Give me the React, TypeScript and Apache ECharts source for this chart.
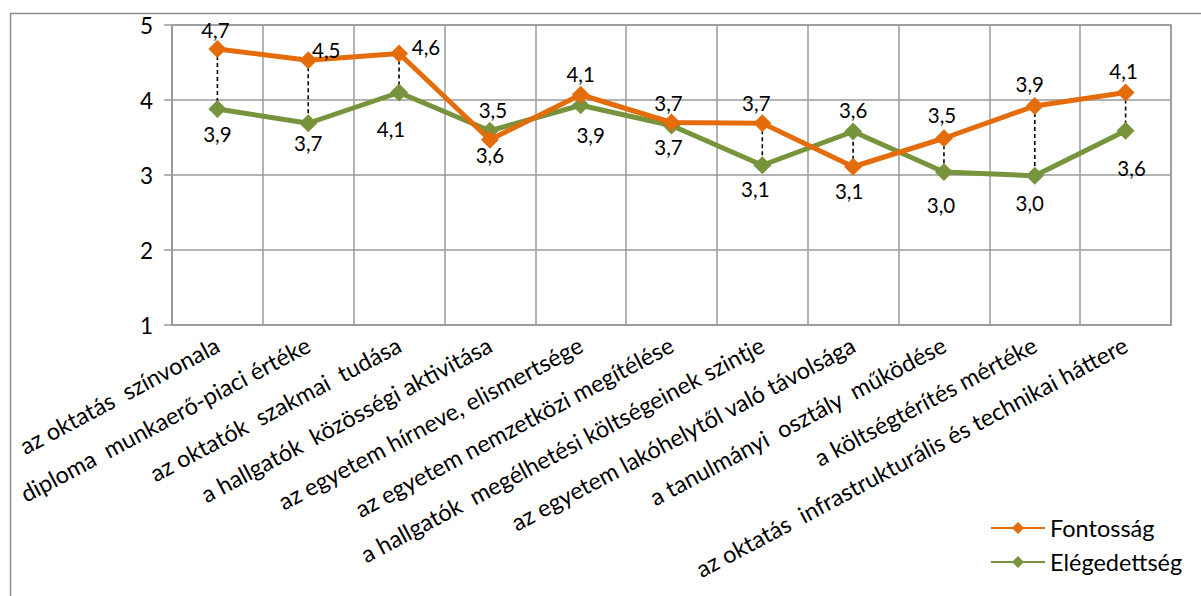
import React, { useEffect, useRef } from "react";
import * as echarts from "echarts";

const categories = [
  "az oktatás  színvonala",
  "diploma  munkaerő-piaci értéke",
  "az oktatók  szakmai  tudása",
  "a hallgatók  közösségi aktivitása",
  "az egyetem hírneve, elismertsége",
  "az egyetem nemzetközi megítélése",
  "a hallgatók  megélhetési költségeinek szintje",
  "az egyetem lakóhelytől való távolsága",
  "a tanulmányi  osztály  működése",
  "a költségtérítés mértéke",
  "az oktatás  infrastrukturális és technikai háttere",
];
const fontossag = [4.68, 4.53, 4.62, 3.47, 4.07, 3.7, 3.69, 3.11, 3.49, 3.92, 4.1];
const elegedettseg = [3.88, 3.69, 4.1, 3.59, 3.93, 3.66, 3.13, 3.58, 3.04, 2.99, 3.59];
const yTicks = [1, 2, 3, 4, 5];

// label offsets (styling only) relative to marker centre
const offF = [[-2, -19], [18, -10], [27, -7], [3, -30], [0, -21], [-3, -20], [-6, -20], [-4, 24], [-2, -23], [-5, -22], [-2, -22]];
const offE = [[0, 25], [0, 20], [-8, 36], [0, 24], [10, 30], [-3, 21], [-7, 24], [0, -22], [-3, 33], [-5, 27], [6, 37]];

const FONT = "Lato";
const fmt = (v: number) => v.toFixed(1).replace(".", ",");

export default function App() {
  const ref = useRef<HTMLDivElement>(null);
  useEffect(() => {
    document.body.style.margin = "0";
    const chart = echarts.init(ref.current!, null, { renderer: "svg" });
    const mkData = (vals: number[], offs: number[][]) =>
      vals.map((v, i) => ({
        value: v,
        label: { offset: offs[i] },
      }));
    chart.setOption({
      animation: false,
      textStyle: { fontFamily: FONT },
      graphic: [
        {
          type: "rect",
          left: 8,
          top: 11,
          shape: { width: 1300, height: 700 },
          style: { fill: "none", stroke: "#8c8c8c", lineWidth: 1.5 },
          silent: true,
        },
      ],
      legend: {
        orient: "vertical",
        left: 985,
        top: 511,
        itemWidth: 54,
        itemHeight: 15,
        itemGap: 10,
        textStyle: { fontFamily: FONT, fontSize: 23.5, color: "#000" },
        data: ["Fontosság", "Elégedettség"],
      },
      grid: {
        left: 172,
        right: 30,
        top: 25,
        bottom: 271,
        show: true,
        borderColor: "#9a9a9a",
        borderWidth: 1.5,
      },
      xAxis: {
        type: "category",
        data: categories,
        boundaryGap: true,
        axisLine: { show: true, lineStyle: { color: "#9a9a9a", width: 1.5 } },
        axisTick: { show: false },
        splitLine: { show: true, lineStyle: { color: "#9a9a9a", width: 1.5 } },
        axisLabel: {
          interval: 0,
          rotate: 28,
          margin: 18,
          color: "#000",
          fontFamily: FONT,
          fontSize: 23.5,
        },
      },
      yAxis: {
        type: "value",
        min: 1,
        max: 5,
        interval: 1,
        axisLine: { show: true, lineStyle: { color: "#9a9a9a", width: 1.5 } },
        axisTick: { show: true, length: 8, lineStyle: { color: "#9a9a9a", width: 1.5 } },
        splitLine: { show: true, lineStyle: { color: "#9a9a9a", width: 1.5 } },
        axisLabel: {
          color: "#000",
          fontFamily: FONT,
          fontSize: 22.5,
          margin: 19,
          formatter: (v: number) => (yTicks.includes(v) ? String(v) : ""),
        },
      },
      series: [
        {
          type: "custom",
          name: "drop",
          z: 1,
          silent: true,
          renderItem: (params: any, api: any) => {
            const i = api.value(0);
            const a = api.coord([i, api.value(1)]);
            const b = api.coord([i, api.value(2)]);
            return {
              type: "line",
              shape: { x1: a[0], y1: a[1], x2: b[0], y2: b[1] },
              style: { stroke: "#000", lineWidth: 1.6, lineDash: [4, 3] },
            };
          },
          encode: { x: 0, y: [1, 2] },
          data: categories.map((_, i) => [i, fontossag[i], elegedettseg[i]]),
        },
        {
          type: "line",
          name: "Fontosság",
          z: 3,
          data: mkData(fontossag, offF),
          color: "#E46C0A",
          lineStyle: { width: 5, color: "#E46C0A" },
          symbol: "diamond",
          symbolSize: 18,
          itemStyle: { color: "#E46C0A" },
          label: {
            show: true,
            position: "inside",
            color: "#000",
            fontFamily: FONT,
            fontSize: 20.5,
            formatter: (p: any) => fmt(p.value),
          },
        },
        {
          type: "line",
          name: "Elégedettség",
          z: 2,
          data: mkData(elegedettseg, offE),
          color: "#77933C",
          lineStyle: { width: 5, color: "#77933C" },
          symbol: "diamond",
          symbolSize: 18,
          itemStyle: { color: "#77933C" },
          label: {
            show: true,
            position: "inside",
            color: "#000",
            fontFamily: FONT,
            fontSize: 20.5,
            formatter: (p: any) => fmt(p.value),
          },
        },
      ],
    });
    return () => chart.dispose();
  }, []);
  return <div ref={ref} style={{ width: 1201, height: 596 }} />;
}
